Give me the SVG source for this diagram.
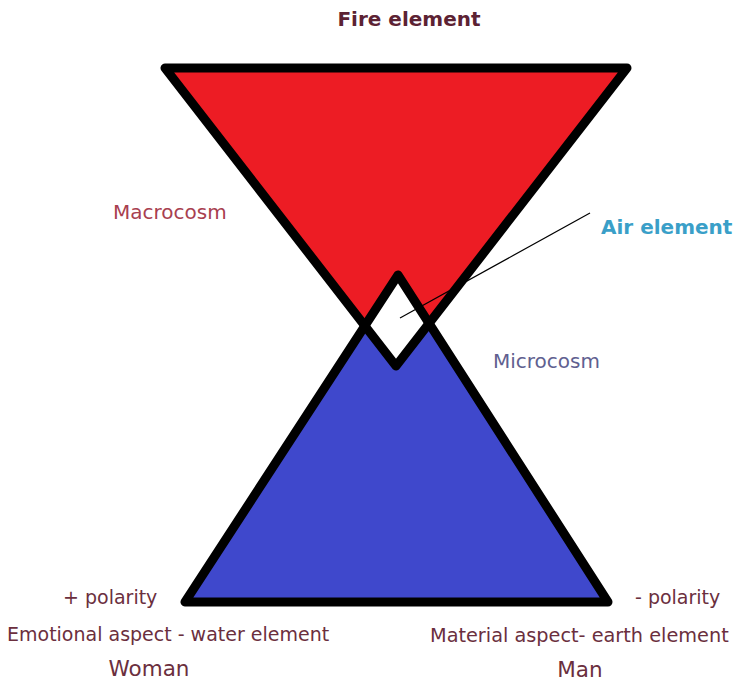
<svg xmlns="http://www.w3.org/2000/svg" width="734" height="683" viewBox="0 0 734 683">
<style>
text{font-family:"DejaVu Sans","Liberation Sans",Arial,sans-serif;}
.lbl{font-size:19px;fill:#6b2f3e;}
.big{font-size:21.5px;fill:#6b2f3e;}
.outline{fill:none;stroke:#000;stroke-width:9;stroke-linejoin:round;stroke-linecap:round;}
</style>
<rect width="734" height="683" fill="#fff"/>
<g id="fire">
<polygon points="165,68 627,68 396,366" fill="#ed1c24"/>
</g>
<g id="earth-water">
<polygon points="398,275 185,602 608,602" fill="#3f48cc"/>
</g>
<g id="air">
<polygon points="398,275 365,325 396,366 429,325" fill="#fff"/>
</g>
<g id="outlines">
<polygon class="outline" points="165,68 627,68 396,366"/>
<polygon class="outline" points="398,275 185,602 608,602"/>
</g>
<g id="connectors">
<line x1="400" y1="318" x2="590" y2="213" stroke="#000" stroke-width="1.2"/>
</g>
<g id="labels">
<text x="409" y="26" text-anchor="middle" font-size="20" font-weight="bold" fill="#5c2233">Fire element</text>
<text x="113" y="219" font-size="20" fill="#a8404f">Macrocosm</text>
<text x="601" y="234" font-size="20" font-weight="bold" fill="#3a9fc8">Air element</text>
<text x="493" y="368" font-size="20" fill="#606090">Microcosm</text>
<text class="lbl" x="63" y="604">+ polarity</text>
<text class="lbl" x="635" y="604">- polarity</text>
<text class="lbl" x="7" y="641">Emotional aspect - water element</text>
<text class="lbl" x="430" y="642" style="font-size:19.3px">Material aspect- earth element</text>
<text class="big" x="149" y="676" text-anchor="middle">Woman</text>
<text class="big" x="580" y="677" text-anchor="middle">Man</text>
</g>
</svg>
